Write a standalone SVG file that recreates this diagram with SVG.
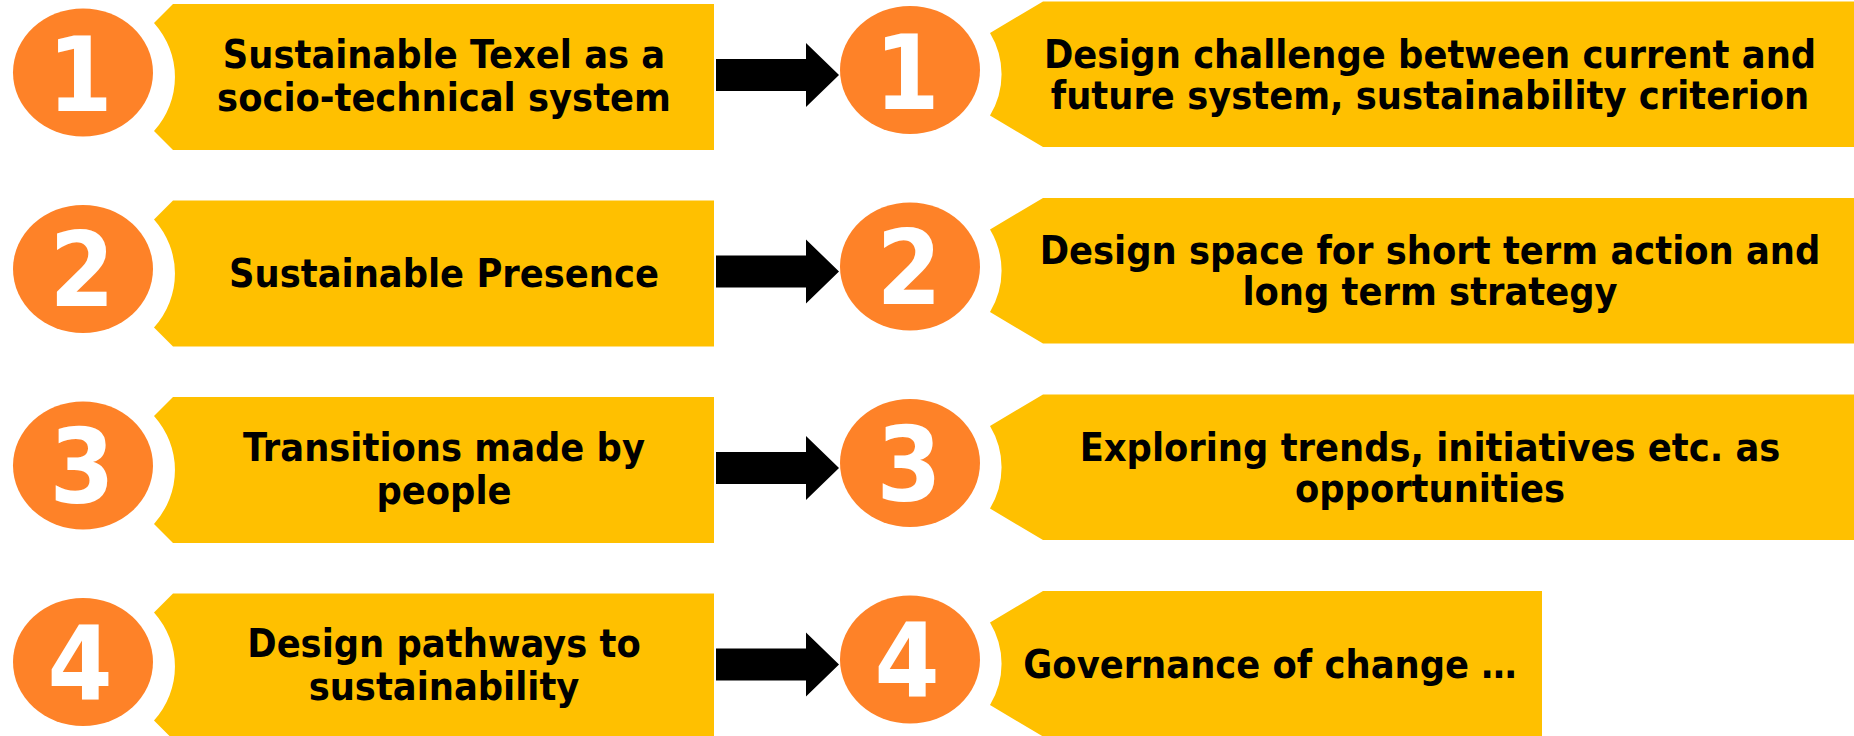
<svg xmlns="http://www.w3.org/2000/svg" width="1854" height="736" viewBox="0 0 1854 736">
<style>
.box{fill:#FFC000}
.num{fill:#FE8228}
.dig{fill:#FFFFFF;font-family:"DejaVu Sans Condensed","DejaVu Sans",sans-serif;font-stretch:condensed;font-weight:bold;font-size:104px;text-anchor:middle}
.lbl{fill:#000000;font-family:"DejaVu Sans Condensed","DejaVu Sans",sans-serif;font-stretch:condensed;font-weight:bold;font-size:39.3px;text-anchor:middle}
.arr{fill:#000000}
</style>
<rect width="1854" height="736" fill="#FFFFFF"/>
<g id="left-1">
<path class="box" d="M173,4 H714 V150 H173 L154,131 A92,85 0 0 0 154,23 Z"/>
<ellipse class="num" cx="83" cy="72.5" rx="70" ry="64"/>
<text class="dig" x="80" y="111">1</text>
<text class="lbl" x="444" y="67.7">Sustainable Texel as a</text>
<text class="lbl" x="444" y="110.7">socio-technical system</text>
</g>
<g id="left-2">
<path class="box" d="M173,200.5 H714 V346.5 H173 L154,327.5 A92,85 0 0 0 154,219.5 Z"/>
<ellipse class="num" cx="83" cy="269" rx="70" ry="64"/>
<text class="dig" x="82" y="306">2</text>
<text class="lbl" x="444" y="287">Sustainable Presence</text>
</g>
<g id="left-3">
<path class="box" d="M173,397 H714 V543 H173 L154,524 A92,85 0 0 0 154,416 Z"/>
<ellipse class="num" cx="83" cy="465.5" rx="70" ry="64"/>
<text class="dig" x="82" y="503">3</text>
<text class="lbl" x="444" y="460.7">Transitions made by</text>
<text class="lbl" x="444" y="503.7">people</text>
</g>
<g id="left-4">
<path class="box" d="M173,593.5 H714 V739.5 H173 L154,720.5 A92,85 0 0 0 154,612.5 Z"/>
<ellipse class="num" cx="83" cy="662" rx="70" ry="64"/>
<text class="dig" x="80" y="700">4</text>
<text class="lbl" x="444" y="657.2">Design pathways to</text>
<text class="lbl" x="444" y="700.2">sustainability</text>
</g>
<g id="right-1">
<path class="box" d="M1043,1.5 H1854 V147 H1043 L990,115.5 A92,85 0 0 0 990,33 Z"/>
<ellipse class="num" cx="910" cy="70" rx="70" ry="64"/>
<text class="dig" x="907" y="109">1</text>
<text class="lbl" x="1430" y="67.5">Design challenge between current and</text>
<text class="lbl" x="1430" y="108.5">future system, sustainability criterion</text>
</g>
<g id="right-2">
<path class="box" d="M1043,198 H1854 V343.5 H1043 L990,312 A92,85 0 0 0 990,229.5 Z"/>
<ellipse class="num" cx="910" cy="266.5" rx="70" ry="64"/>
<text class="dig" x="909" y="304">2</text>
<text class="lbl" x="1430" y="264">Design space for short term action and</text>
<text class="lbl" x="1430" y="305">long term strategy</text>
</g>
<g id="right-3">
<path class="box" d="M1043,394.5 H1854 V540 H1043 L990,508.5 A92,85 0 0 0 990,426 Z"/>
<ellipse class="num" cx="910" cy="463" rx="70" ry="64"/>
<text class="dig" x="909" y="500.5">3</text>
<text class="lbl" x="1430" y="460.5">Exploring trends, initiatives etc. as</text>
<text class="lbl" x="1430" y="501.5">opportunities</text>
</g>
<g id="right-4">
<path class="box" d="M1043,591 H1542 V736.5 H1043 L990,705 A92,85 0 0 0 990,622.5 Z"/>
<ellipse class="num" cx="910" cy="659.5" rx="70" ry="64"/>
<text class="dig" x="907" y="697">4</text>
<text class="lbl" x="1270" y="677.5">Governance of change …</text>
</g>
<g id="connectors">
<polygon class="arr" points="716,59 806,59 806,43 839,75 806,107 806,91 716,91"/>
<polygon class="arr" points="716,255.5 806,255.5 806,239.5 839,271.5 806,303.5 806,287.5 716,287.5"/>
<polygon class="arr" points="716,452 806,452 806,436 839,468 806,500 806,484 716,484"/>
<polygon class="arr" points="716,648.5 806,648.5 806,632.5 839,664.5 806,696.5 806,680.5 716,680.5"/>
</g>
</svg>
